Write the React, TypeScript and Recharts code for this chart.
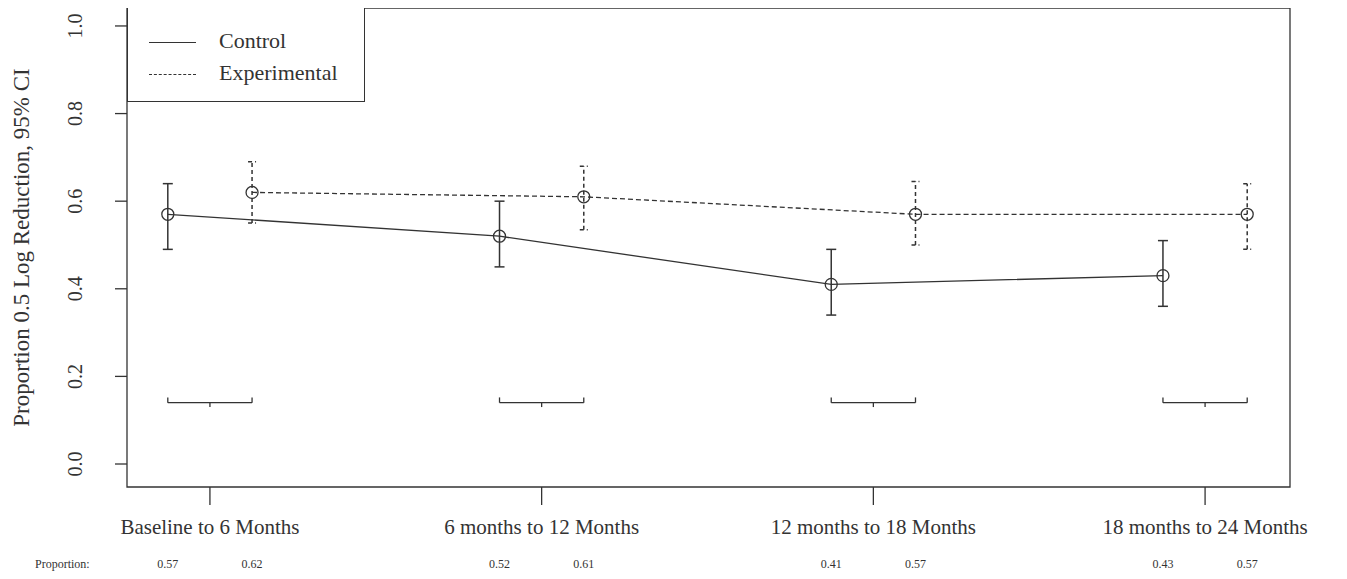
import {
  ComposedChart,
  Scatter,
  XAxis,
  YAxis,
  ErrorBar,
  ReferenceLine,
  ReferenceArea,
} from "recharts";

const categories = [
  "Baseline to 6 Months",
  "6 months to 12 Months",
  "12 months to 18 Months",
  "18 months to 24 Months",
];
const controlValues = [0.57, 0.52, 0.41, 0.43];
const controlLow = [0.49, 0.45, 0.34, 0.36];
const controlHigh = [0.64, 0.6, 0.49, 0.51];
const expValues = [0.62, 0.61, 0.57, 0.57];
const expLow = [0.55, 0.535, 0.5, 0.49];
const expHigh = [0.69, 0.68, 0.645, 0.64];
const controlLabels = ["0.57", "0.52", "0.41", "0.43"];
const expLabels = ["0.62", "0.61", "0.57", "0.57"];
const yTicks = [0, 0.2, 0.4, 0.6, 0.8, 1.0];
const bracketLevel = 0.14;

const OFFSET = 0.127;
const INK = "#333";
const FONT = "Liberation Serif, DejaVu Serif, serif";

const controlData = controlValues.map((v, i) => ({
  x: i - OFFSET,
  y: v,
  err: [v - controlLow[i], controlHigh[i] - v],
}));
const expData = expValues.map((v, i) => ({
  x: i + OFFSET,
  y: v,
  err: [v - expLow[i], expHigh[i] - v],
}));

const propTicks = [
  ...controlLabels.map((_, i) => i - OFFSET),
  ...expLabels.map((_, i) => i + OFFSET),
].sort((a, b) => a - b);
const propLabel = (v: number) => {
  const i = Math.round(v);
  return v < i ? controlLabels[i] : expLabels[i];
};

const OpenCircle = (props: any) => (
  <circle cx={props.cx} cy={props.cy} r={6} fill="none" stroke={INK} strokeWidth={1.3} />
);

const YTick = (props: any) => (
  <text
    x={props.x}
    y={props.y}
    transform={`rotate(-90 ${props.x} ${props.y})`}
    textAnchor="middle"
    dominantBaseline="central"
    fontSize={20}
    fontFamily={FONT}
    fill={INK}
  >
    {props.payload.value.toFixed(1)}
  </text>
);

export default function App() {
  return (
    <div style={{ position: "relative", width: 1331, height: 563, fontFamily: FONT }}>
      <ComposedChart
        width={1331}
        height={563}
        margin={{ top: 0, right: 49, bottom: 0, left: 0 }}
      >
        <XAxis
          type="number"
          dataKey="x"
          domain={[-0.25, 3.256]}
          ticks={[0, 1, 2, 3]}
          interval={0}
          tickFormatter={(v) => categories[v]}
          axisLine={false}
          tickSize={18}
          tickMargin={14}
          height={60}
          tick={{ fontSize: 21, fill: INK, fontFamily: FONT }}
          tickLine={{ stroke: INK, strokeWidth: 1.3 }}
          allowDataOverflow
        />
        <XAxis
          xAxisId="p"
          type="number"
          dataKey="x"
          domain={[-0.25, 3.256]}
          ticks={propTicks}
          interval={0}
          tickFormatter={propLabel}
          axisLine={false}
          tickLine={false}
          tickSize={0}
          tickMargin={12}
          height={24}
          tick={{ fontSize: 12, fill: INK, fontFamily: FONT }}
          allowDataOverflow
        />
        <YAxis
          type="number"
          domain={[-0.0525, 1.041]}
          ticks={yTicks}
          width={119}
          axisLine={false}
          tickSize={12}
          tickMargin={40}
          tick={<YTick />}
          tickLine={{ stroke: INK, strokeWidth: 1.3 }}
          allowDataOverflow
          label={{
            value: "Proportion 0.5 Log Reduction, 95% CI",
            angle: -90,
            position: "insideLeft",
            offset: 13,
            style: { textAnchor: "middle", fontSize: 23, fill: INK, fontFamily: FONT },
          }}
        />
        <ReferenceArea
          x1={-0.25}
          x2={3.256}
          y1={-0.0525}
          y2={1.041}
          fill="none"
          stroke={INK}
          strokeWidth={1.3}
          ifOverflow="extendDomain"
        />
        {categories.map((c, i) => (
          <ReferenceLine
            key={"h" + c}
            segment={[
              { x: i - OFFSET, y: bracketLevel },
              { x: i + OFFSET, y: bracketLevel },
            ]}
            stroke={INK}
            strokeWidth={1.3}
          />
        ))}
        {categories.map((c, i) => (
          <ReferenceLine
            key={"l" + c}
            segment={[
              { x: i - OFFSET, y: bracketLevel },
              { x: i - OFFSET, y: bracketLevel + 0.012 },
            ]}
            stroke={INK}
            strokeWidth={1.3}
          />
        ))}
        {categories.map((c, i) => (
          <ReferenceLine
            key={"r" + c}
            segment={[
              { x: i + OFFSET, y: bracketLevel },
              { x: i + OFFSET, y: bracketLevel + 0.012 },
            ]}
            stroke={INK}
            strokeWidth={1.3}
          />
        ))}
        {categories.map((c, i) => (
          <ReferenceLine
            key={"m" + c}
            segment={[
              { x: i, y: bracketLevel },
              { x: i, y: bracketLevel - 0.01 },
            ]}
            stroke={INK}
            strokeWidth={1.3}
          />
        ))}
        <Scatter
          data={controlData}
          dataKey="y"
          line={{ stroke: INK, strokeWidth: 1.3 }}
          shape={<OpenCircle />}
          isAnimationActive={false}
        >
          <ErrorBar dataKey="err" direction="y" width={5} stroke={INK} strokeWidth={1.5} />
        </Scatter>
        <Scatter
          data={expData}
          dataKey="y"
          line={{ stroke: INK, strokeWidth: 1.3, strokeDasharray: "5 3" }}
          shape={<OpenCircle />}
          isAnimationActive={false}
        >
          <ErrorBar
            dataKey="err"
            direction="y"
            width={4}
            stroke={INK}
            strokeWidth={1.5}
            strokeDasharray="4 3"
          />
        </Scatter>
      </ComposedChart>
      <div
        style={{
          position: "absolute",
          left: 119,
          top: 0,
          width: 238,
          height: 94,
          border: `1.3px solid ${INK}`,
          borderTop: "none",
          background: "#fff",
          boxSizing: "border-box",
          fontSize: 22,
          color: INK,
        }}
      >
        <div style={{ position: "absolute", left: 21, top: 34, width: 47, borderTop: `1.3px solid ${INK}` }} />
        <div style={{ position: "absolute", left: 21, top: 66, width: 47, borderTop: `1.3px dashed ${INK}` }} />
        <div style={{ position: "absolute", left: 91, top: 20 }}>Control</div>
        <div style={{ position: "absolute", left: 91, top: 52 }}>Experimental</div>
      </div>
      <div style={{ position: "absolute", left: 27, top: 549, fontSize: 12, color: INK }}>
        Proportion:
      </div>
    </div>
  );
}
